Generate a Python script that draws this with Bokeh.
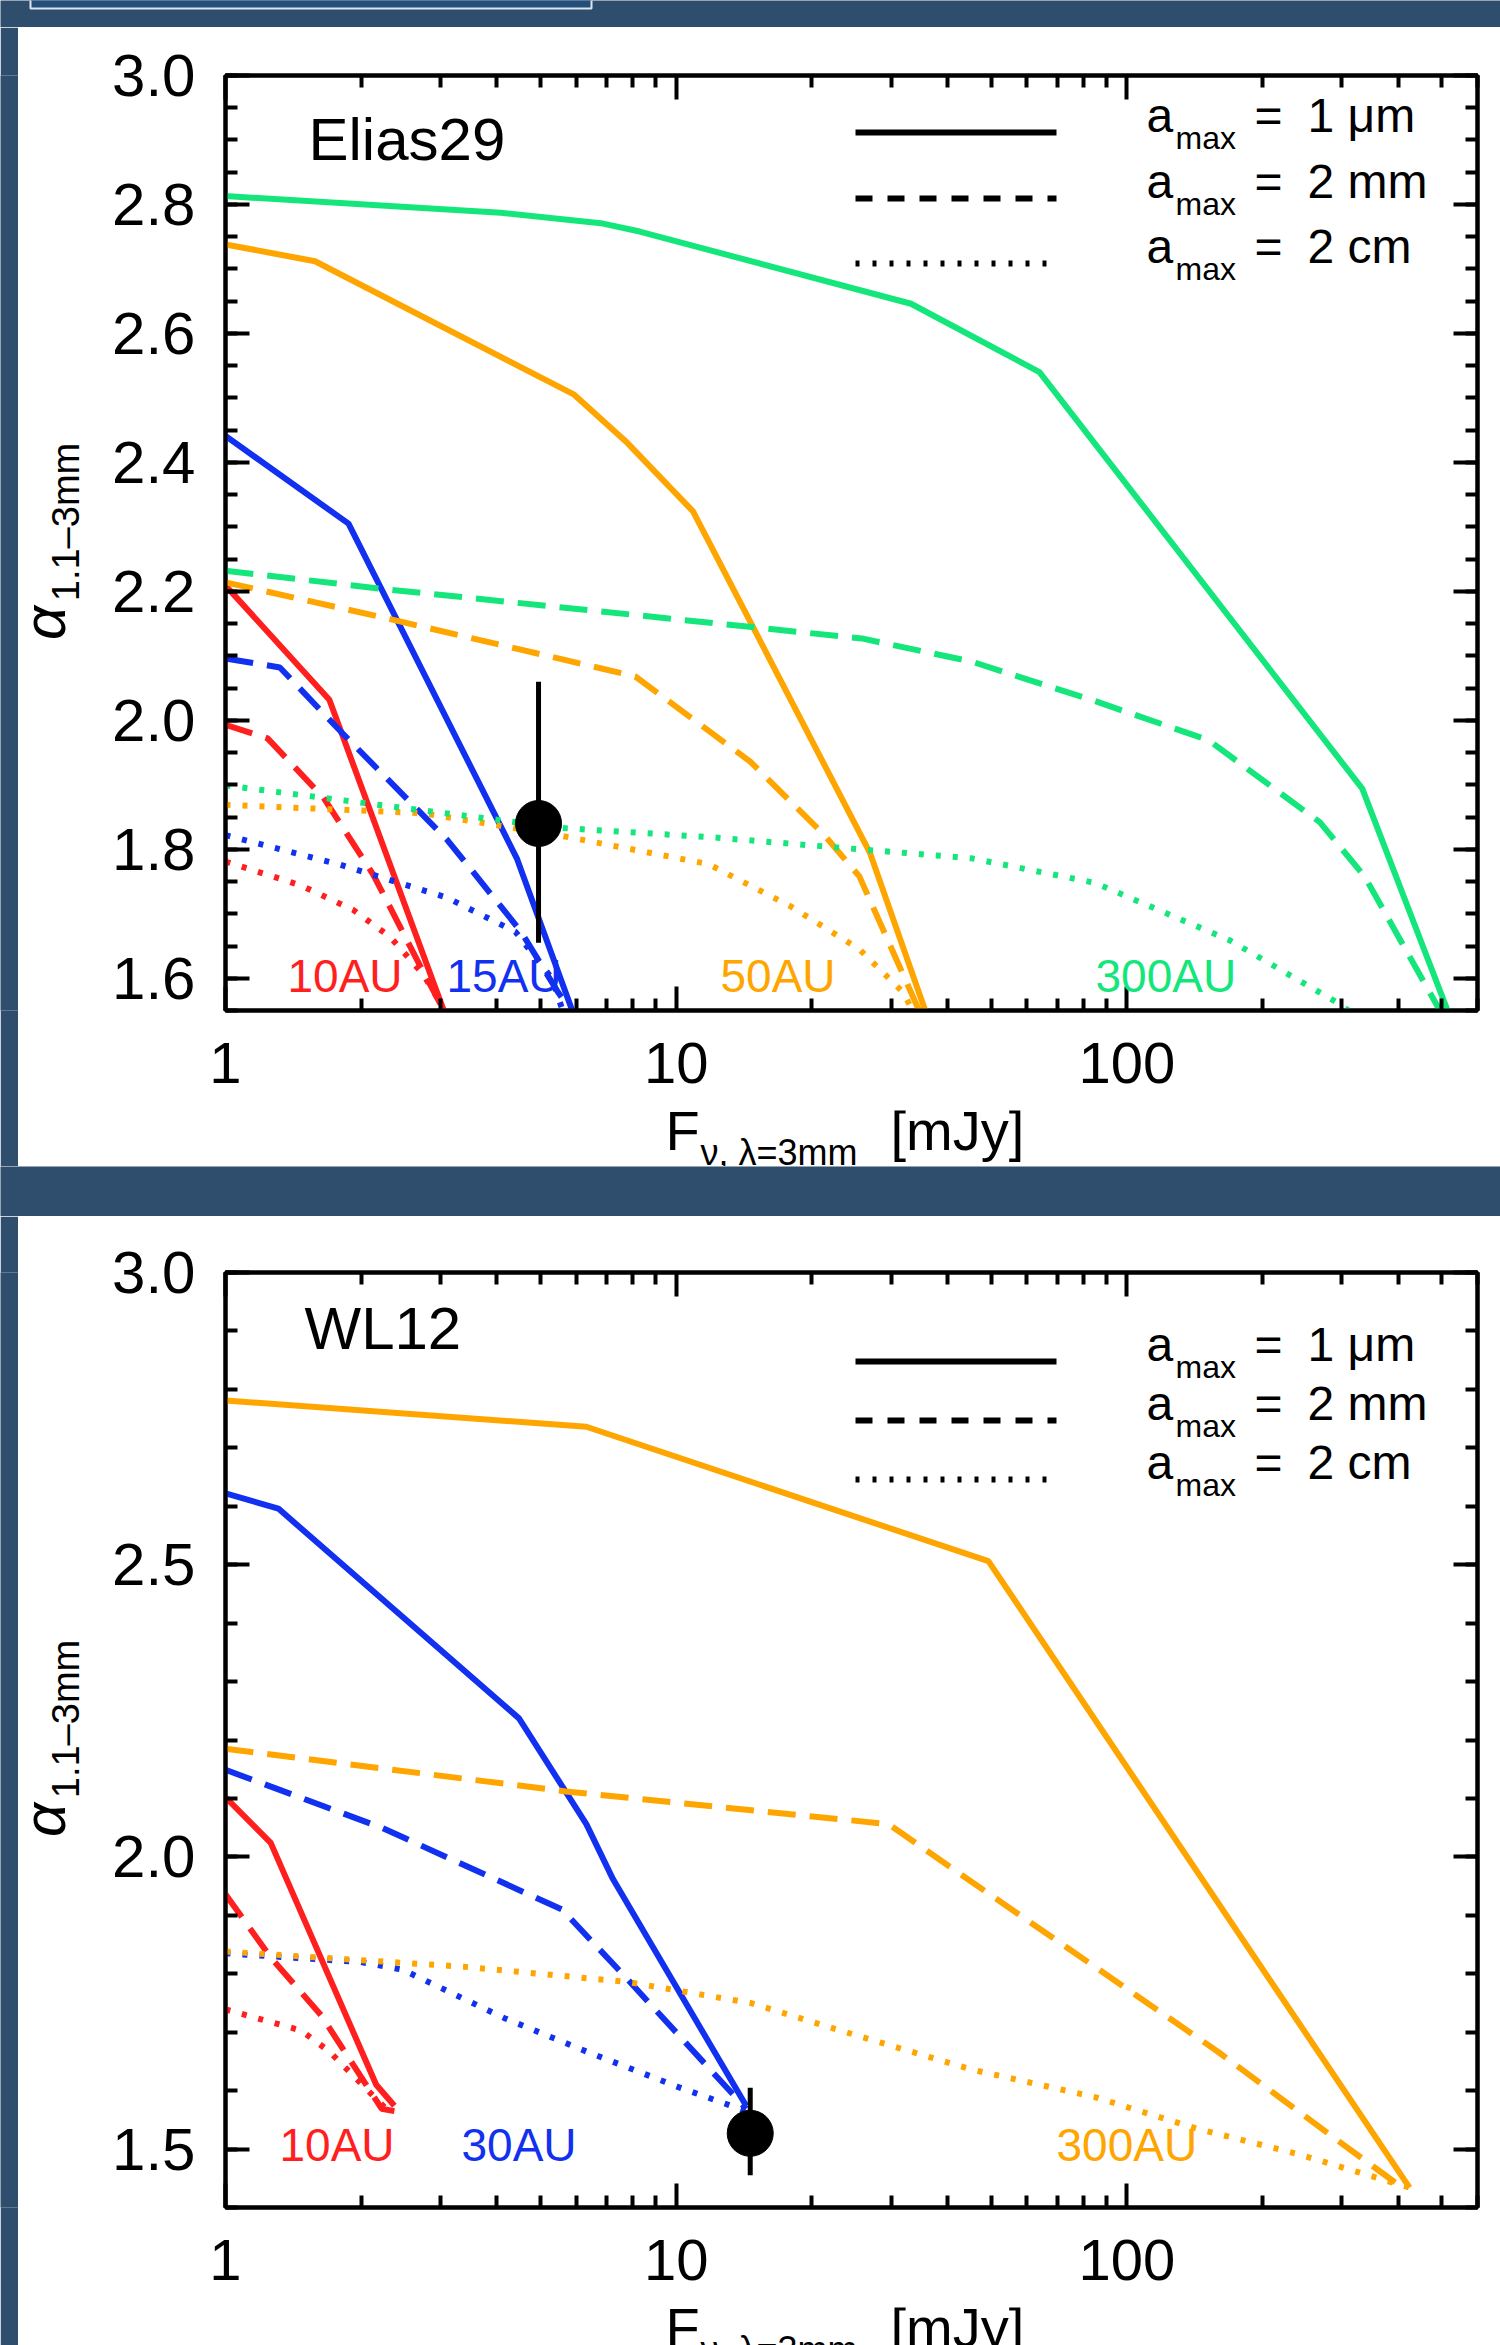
import numpy as np
from bokeh.plotting import figure
from bokeh.models import (FixedTicker, LinearAxis, LogAxis, Label, Range1d,
                          PrintfTickFormatter, CustomJSTickFormatter, Row, Column)
from bokeh.embed import file_html
from bokeh.resources import INLINE

BG = "#2f4e6d"
FONT = "Liberation Sans"
RED, BLUE, ORANGE, GREEN = "#ff1f1f", "#1230f0", "#ffa500", "#14e67c"
DASH = {"1um": "solid", "2mm": "28 14", "2cm": "5 12"}
KEY_DASH = {"1um": "solid", "2mm": "17 15", "2cm": "4 13"}

# ---------------- Elias29 (top panel) ----------------
e_red_1um_x = [1.0, 1.70, 3.05]
e_red_1um_y = [2.209, 2.032, 1.55]
e_red_2mm_x = [1.0, 1.24, 1.65, 2.13, 2.7, 3.0]
e_red_2mm_y = [1.993, 1.972, 1.88, 1.76, 1.62, 1.56]
e_red_2cm_x = [1.0, 1.47, 1.92, 2.32, 2.74, 2.95]
e_red_2cm_y = [1.781, 1.744, 1.706, 1.664, 1.607, 1.57]

e_blue_1um_x = [1.0, 1.875, 4.43, 5.88]
e_blue_1um_y = [2.441, 2.305, 1.786, 1.55]
e_blue_2mm_x = [1.0, 1.32, 1.80, 3.11, 4.52, 5.46, 5.85]
e_blue_2mm_y = [2.096, 2.082, 1.983, 1.814, 1.673, 1.579, 1.55]
e_blue_2cm_x = [1.0, 1.8, 3.1, 4.4, 5.3, 5.6]
e_blue_2cm_y = [1.822, 1.776, 1.725, 1.672, 1.60, 1.55]

e_orange_1um_x = [1.0, 1.58, 5.94, 7.8, 10.9, 26.9, 35.7]
e_orange_1um_y = [2.738, 2.712, 2.505, 2.43, 2.324, 1.795, 1.55]
e_orange_2mm_x = [1.0, 2.32, 8.12, 14.6, 21.2, 25.5, 34.6]
e_orange_2mm_y = [2.214, 2.157, 2.068, 1.936, 1.824, 1.758, 1.55]
e_orange_2cm_x = [1.0, 2.74, 5.46, 11.8, 18.0, 25.5, 31.8, 33.5]
e_orange_2cm_y = [1.869, 1.856, 1.822, 1.777, 1.711, 1.645, 1.579, 1.55]

e_green_1um_x = [1.0, 4.08, 6.8, 8.3, 33.2, 64.0, 333.0, 515.0]
e_green_1um_y = [2.813, 2.787, 2.771, 2.758, 2.646, 2.540, 1.894, 1.55]
e_green_2mm_x = [1.0, 2.22, 25.8, 45.3, 84.9, 152.0, 268.0, 337.0, 495.0]
e_green_2mm_y = [2.232, 2.204, 2.127, 2.091, 2.030, 1.969, 1.842, 1.758, 1.55]
e_green_2cm_x = [1.0, 5.58, 11.8, 25.5, 45.3, 84.9, 169.0, 297.0, 310.0]
e_green_2cm_y = [1.899, 1.833, 1.819, 1.800, 1.786, 1.748, 1.659, 1.56, 1.55]

e_obs_flux = [4.95]
e_obs_alpha = [1.84]
e_obs_lo = [1.655]
e_obs_hi = [2.06]

# ---------------- WL12 (bottom panel) ----------------
w_red_1um_x = [1.0, 1.26, 2.16, 2.37]
w_red_1um_y = [2.102, 2.024, 1.610, 1.574]
w_red_2mm_x = [1.0, 1.26, 1.63, 2.22, 2.37]
w_red_2mm_y = [1.936, 1.828, 1.729, 1.569, 1.565]
w_red_2cm_x = [1.0, 1.47, 1.70, 2.27]
w_red_2cm_y = [1.739, 1.703, 1.667, 1.569]

w_blue_1um_x = [1.0, 1.31, 4.48, 6.32, 7.24, 14.3]
w_blue_1um_y = [2.622, 2.596, 2.237, 2.056, 1.962, 1.574]
w_blue_2mm_x = [1.0, 2.22, 5.58, 7.79, 14.3]
w_blue_2mm_y = [2.149, 2.050, 1.910, 1.791, 1.569]
w_blue_2cm_x = [1.0, 2.0, 2.47, 4.16, 6.32, 10.2, 14.3]
w_blue_2cm_y = [1.835, 1.82, 1.807, 1.724, 1.667, 1.605, 1.565]

w_orange_1um_x = [1.0, 6.32, 49.3, 424.0]
w_orange_1um_y = [2.781, 2.736, 2.506, 1.434]
w_orange_2mm_x = [1.0, 5.69, 29.6, 45.3, 84.9, 159.0, 297.0, 400.0]
w_orange_2mm_y = [2.185, 2.112, 2.056, 1.957, 1.812, 1.667, 1.512, 1.439]
w_orange_2cm_x = [1.0, 3.38, 7.79, 14.6, 25.5, 45.3, 84.9, 143.0, 241.0, 424.0]
w_orange_2cm_y = [1.838, 1.812, 1.786, 1.75, 1.693, 1.636, 1.589, 1.535, 1.491, 1.434]

w_obs_flux = [14.6]
w_obs_alpha = [1.527]
w_obs_lo = [1.455]
w_obs_hi = [1.605]

x_major = [1, 10, 100]
x_minor = [2, 3, 4, 5, 6, 7, 8, 9, 20, 30, 40, 50, 60, 70, 80, 90, 200, 300, 400, 500, 600]
top_y_major = [1.6, 1.8, 2.0, 2.2, 2.4, 2.6, 2.8, 3.0]
top_y_minor = [round(1.55 + 0.05 * i, 2) for i in range(30)]
bot_y_major = [1.5, 2.0, 2.5, 3.0]
bot_y_minor = [round(1.4 + 0.1 * i, 1) for i in range(17)]

legend_texts = ["1 \u03bcm", "2 mm", "2 cm"]
legend_keys = ["1um", "2mm", "2cm"]
x_title = ("F", "\u03bd, \u03bb=3mm", "[mJy]")
y_title = ("\u03b1", "1.1\u20133mm")

top_series = [
    (e_red_1um_x, e_red_1um_y, RED, "1um"), (e_red_2mm_x, e_red_2mm_y, RED, "2mm"), (e_red_2cm_x, e_red_2cm_y, RED, "2cm"),
    (e_blue_1um_x, e_blue_1um_y, BLUE, "1um"), (e_blue_2mm_x, e_blue_2mm_y, BLUE, "2mm"), (e_blue_2cm_x, e_blue_2cm_y, BLUE, "2cm"),
    (e_orange_1um_x, e_orange_1um_y, ORANGE, "1um"), (e_orange_2mm_x, e_orange_2mm_y, ORANGE, "2mm"), (e_orange_2cm_x, e_orange_2cm_y, ORANGE, "2cm"),
    (e_green_1um_x, e_green_1um_y, GREEN, "1um"), (e_green_2mm_x, e_green_2mm_y, GREEN, "2mm"), (e_green_2cm_x, e_green_2cm_y, GREEN, "2cm"),
]
bot_series = [
    (w_red_1um_x, w_red_1um_y, RED, "1um"), (w_red_2mm_x, w_red_2mm_y, RED, "2mm"), (w_red_2cm_x, w_red_2cm_y, RED, "2cm"),
    (w_blue_1um_x, w_blue_1um_y, BLUE, "1um"), (w_blue_2mm_x, w_blue_2mm_y, BLUE, "2mm"), (w_blue_2cm_x, w_blue_2cm_y, BLUE, "2cm"),
    (w_orange_1um_x, w_orange_1um_y, ORANGE, "1um"), (w_orange_2mm_x, w_orange_2mm_y, ORANGE, "2mm"), (w_orange_2cm_x, w_orange_2cm_y, ORANGE, "2cm"),
]

# ---------------- page geometry (pixels) ----------------
PAGE_W = 1500
STRIP_W = 18          # dark strip at the left
YLAB_W = 80           # white column holding the y title
MAIN_X0 = STRIP_W + YLAB_W
MAIN_W = PAGE_W - MAIN_X0
FRAME_L, FRAME_R = 225.0, 1477.0
FRAME_H = 935.0
XMAX = 600.0
BOTTOM_BORDER = 100
BL, BR = int(FRAME_L - MAIN_X0), int(PAGE_W - FRAME_R)


def px2x(px):
    return 10 ** ((px - FRAME_L) / (FRAME_R - FRAME_L) * np.log10(XMAX))


def pixel_fig(w, h, bg, x0, x1, ytop, ybot, bl=0, br=0, bt=0, bb=0):
    """A figure whose frame maps page pixels: x -> x, page y -> -y."""
    f = figure(width=w, height=h, x_range=Range1d(x0, x1), y_range=Range1d(-ybot, -ytop),
               output_backend="svg", toolbar_location=None,
               min_border_left=bl, min_border_right=br, min_border_top=bt, min_border_bottom=bb,
               x_axis_location=None, y_axis_location=None)
    f.outline_line_color = None
    f.background_fill_color = bg
    f.border_fill_color = bg
    f.grid.visible = False
    return f


def style_axis(ax, labels, size="58px"):
    ax.axis_line_width = 4
    ax.axis_line_color = "black"
    ax.major_tick_in = 24
    ax.major_tick_out = 0
    ax.minor_tick_in = 12
    ax.minor_tick_out = 0
    ax.major_tick_line_width = 4
    ax.minor_tick_line_width = 4
    ax.major_tick_line_color = "black"
    ax.minor_tick_line_color = "black"
    ax.major_label_text_font = FONT
    if labels:
        ax.major_label_text_color = "black"
        ax.major_label_text_font_size = size
    else:
        ax.major_label_text_color = None
        ax.major_label_text_font_size = "1px"
        ax.major_label_standoff = 0


def txt(fig, x, y, text, size, color="black", align="left", angle=0.0, style="normal"):
    fig.add_layout(Label(x=x, y=y, text=text, text_font=FONT, text_font_size=size,
                         text_color=color, text_align=align, text_baseline="middle",
                         angle=angle, text_font_style=style))


def panel(fig_top, total_h, frame_top, y0, y1, ymaj, ymin, series, obs, name, name_c,
          legend_base, tags, tag_c):
    frame_bot = frame_top + FRAME_H
    top_border = int(frame_top - fig_top)
    main_h = top_border + int(FRAME_H) + BOTTOM_BORDER
    xlab_h = total_h - main_h
    fig_bot = fig_top + total_h

    def px2y(py):
        return y0 + (frame_bot - py) / FRAME_H * (y1 - y0)

    p = figure(width=MAIN_W, height=main_h, x_axis_type="log",
               x_range=Range1d(1, XMAX), y_range=Range1d(y0, y1),
               output_backend="svg", toolbar_location=None,
               min_border_left=BL, min_border_right=BR,
               min_border_top=top_border, min_border_bottom=BOTTOM_BORDER)
    p.background_fill_color = "white"
    p.border_fill_color = "white"
    p.grid.visible = False
    p.outline_line_color = "black"
    p.outline_line_width = 4

    xt = FixedTicker(ticks=x_major, minor_ticks=x_minor)
    yt = FixedTicker(ticks=ymaj, minor_ticks=ymin)
    p.xaxis.ticker = xt
    p.xaxis.formatter = CustomJSTickFormatter(code="return String(Math.round(tick));")
    p.yaxis.ticker = yt
    p.yaxis.formatter = PrintfTickFormatter(format="%.1f")
    for ax in p.xaxis:
        style_axis(ax, True, "58px")
        ax.major_label_standoff = 32
    for ax in p.yaxis:
        style_axis(ax, True, "60px")
        ax.major_label_standoff = 30
    top_ax = LogAxis(ticker=xt)
    style_axis(top_ax, False)
    p.add_layout(top_ax, "above")
    right_ax = LinearAxis(ticker=yt)
    style_axis(right_ax, False)
    p.add_layout(right_ax, "right")

    for xs, ys, col, key in series:
        p.line(xs, ys, line_color=col, line_width=6, line_dash=DASH[key])

    fx, fa, flo, fhi = obs
    p.segment(x0=fx, y0=flo, x1=fx, y1=fhi, line_color="black", line_width=5)
    p.scatter(fx, fa, size=46, fill_color="black", line_color="black")

    txt(p, px2x(name_c[0]), px2y(name_c[1]), name, "60px")
    for t, px, col in tags:
        txt(p, px2x(px), px2y(tag_c), t, "46px", color=col)
    for base, key, val in zip(legend_base, legend_keys, legend_texts):
        p.line([px2x(855), px2x(1056)], [px2y(base), px2y(base)], line_color="black",
               line_width=6, line_dash=KEY_DASH[key])
        txt(p, px2x(1146), px2y(base - 17), "a", "48px")
        txt(p, px2x(1175), px2y(base + 5), "max", "32px")
        txt(p, px2x(1254), px2y(base - 17), "=", "48px")
        txt(p, px2x(1307), px2y(base - 17), val, "48px")

    # y title column (frame aligned with the main frame, page coordinates)
    yl = pixel_fig(YLAB_W, total_h, "white", STRIP_W, MAIN_X0, frame_top, frame_bot,
                   bt=top_border, bb=int(total_h - top_border - FRAME_H))
    yc = (frame_top + frame_bot) / 2
    txt(yl, 44, -(yc + 80), y_title[0], "60px", align="center",
        angle=np.pi / 2, style="italic")
    txt(yl, 65, -(yc - 21), y_title[1], "38px", align="center", angle=np.pi / 2)

    # x title strip (frame aligned with the main frame, page coordinates)
    xl_top = fig_top + main_h
    xl = pixel_fig(MAIN_W, xlab_h, "white", FRAME_L, FRAME_R, xl_top, fig_bot, bl=BL, br=BR)
    base = frame_bot + 140
    txt(xl, 665, -(base - 20), x_title[0], "56px")
    txt(xl, 700, -(base + 2), x_title[1], "36px")
    txt(xl, 890, -(base - 20), x_title[2], "56px")

    strip = pixel_fig(STRIP_W, total_h, BG, 0, STRIP_W, fig_top, fig_bot)
    return Row(children=[strip, yl, Column(children=[p, xl], spacing=0)], spacing=0)


top_block = panel(27, 1139, 75.0, 1.55, 3.0, top_y_major, top_y_minor, top_series,
                  (e_obs_flux, e_obs_alpha, e_obs_lo, e_obs_hi), "Elias29", (308, 139),
                  [132, 198, 263],
                  [("10AU", 287, RED), ("15AU", 446, BLUE), ("50AU", 720, ORANGE), ("300AU", 1095, GREEN)],
                  975)
bot_block = panel(1216, 1129, 1272.0, 1.4, 3.0, bot_y_major, bot_y_minor, bot_series,
                  (w_obs_flux, w_obs_alpha, w_obs_lo, w_obs_hi), "WL12", (304, 1328),
                  [1361, 1420, 1479],
                  [("10AU", 279, RED), ("30AU", 461, BLUE), ("300AU", 1056, ORANGE)],
                  2144)

header = pixel_fig(PAGE_W, 27, BG, 0, PAGE_W, 0, 27)
header.quad(left=[30], right=[591], bottom=[-8], top=[12], fill_color="#234f7b",
            line_color="#dde6ef", line_width=2)
gap = pixel_fig(PAGE_W, 50, BG, 0, PAGE_W, 1166, 1216)

root = Column(children=[header, top_block, gap, bot_block], spacing=0)

open("out.html", "w").write(file_html(root, INLINE))
